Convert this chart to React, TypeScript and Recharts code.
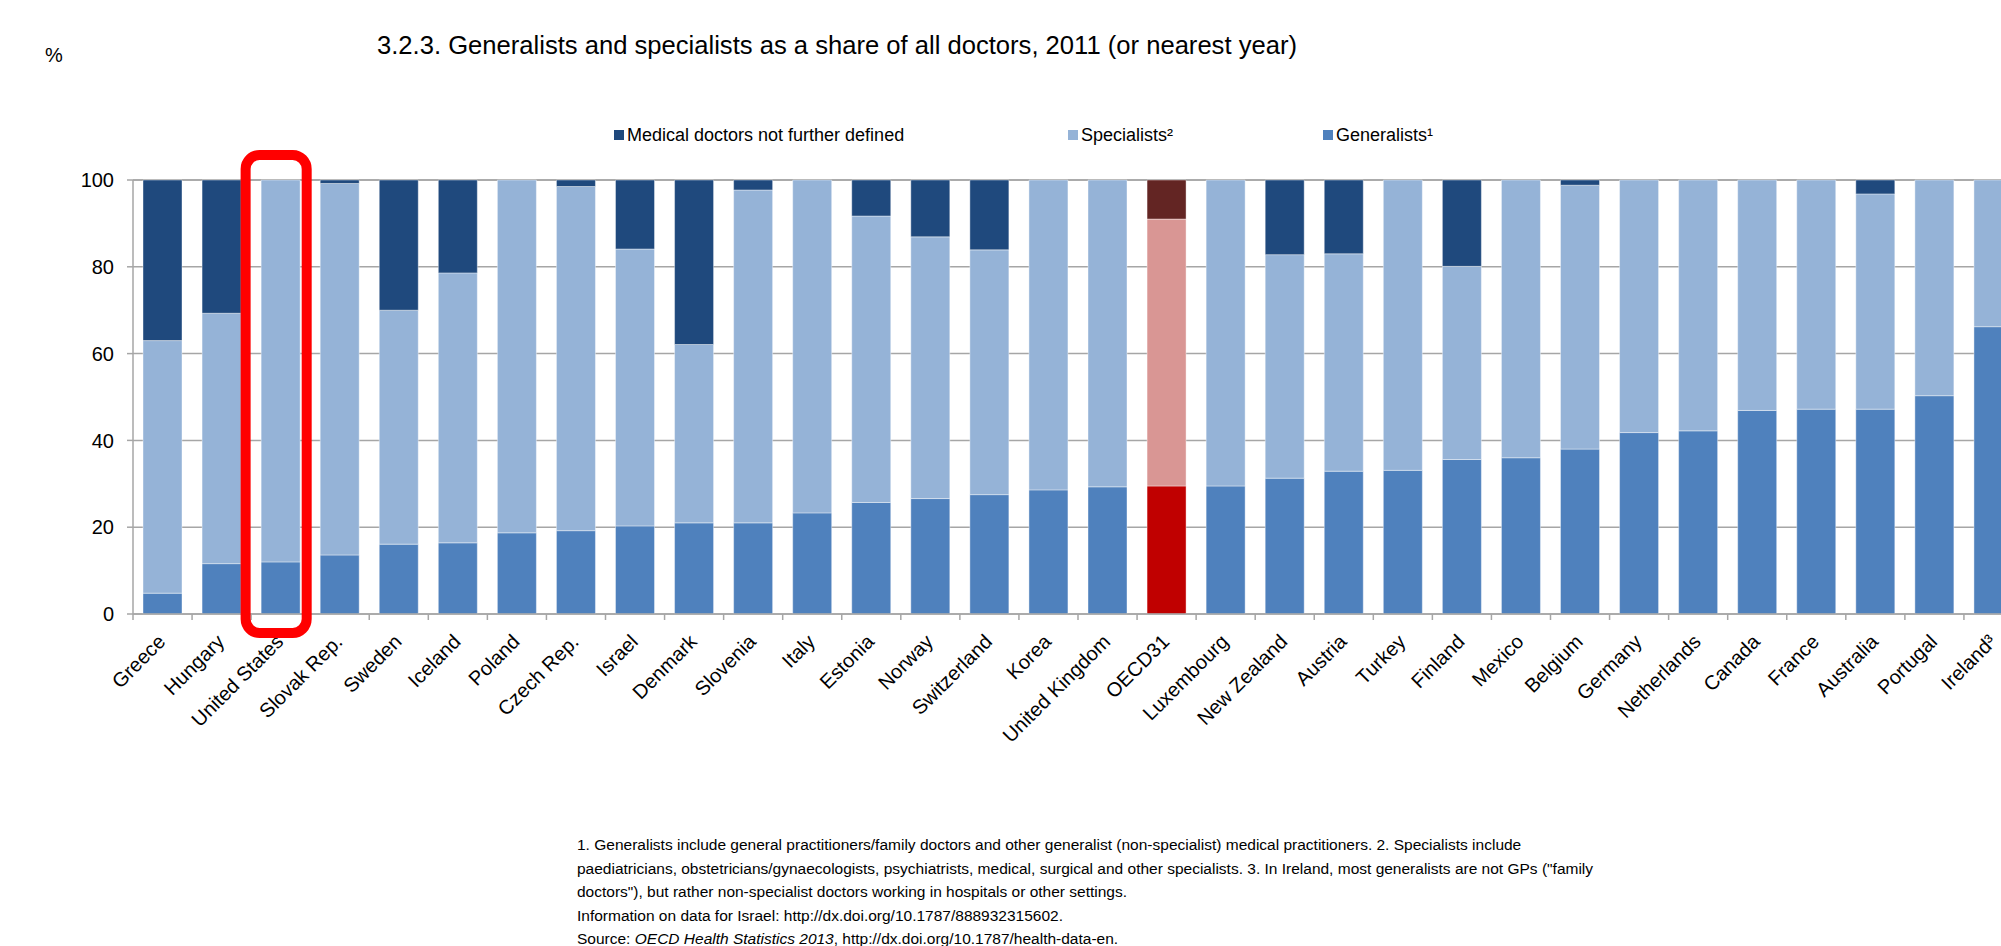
import React from 'react';
import { BarChart, Bar, XAxis, YAxis, CartesianGrid, Cell } from 'recharts';

// Share of all doctors (%), 2011 or nearest year
const countries = [
  'Greece', 'Hungary', 'United States', 'Slovak Rep.', 'Sweden', 'Iceland', 'Poland', 'Czech Rep.',
  'Israel', 'Denmark', 'Slovenia', 'Italy', 'Estonia', 'Norway', 'Switzerland', 'Korea',
  'United Kingdom', 'OECD31', 'Luxembourg', 'New Zealand', 'Austria', 'Turkey', 'Finland', 'Mexico',
  'Belgium', 'Germany', 'Netherlands', 'Canada', 'France', 'Australia', 'Portugal', 'Ireland³',
];
const generalists = [
  4.8, 11.6, 12.0, 13.6, 16.1, 16.4, 18.7, 19.2,
  20.3, 21.0, 21.0, 23.3, 25.7, 26.6, 27.5, 28.6,
  29.3, 29.5, 29.5, 31.3, 32.9, 33.1, 35.6, 36.0,
  38.0, 41.8, 42.2, 46.9, 47.2, 47.2, 50.3, 66.2,
];
const specialists = [
  58.2, 57.7, 88.0, 85.6, 53.9, 62.2, 81.3, 79.3,
  63.8, 41.1, 76.7, 76.7, 66.0, 60.3, 56.4, 71.4,
  70.7, 61.5, 70.5, 51.5, 50.1, 66.9, 44.5, 64.0,
  60.8, 58.2, 57.8, 53.1, 52.8, 49.6, 49.7, 33.8,
];
const notDefined = [
  37.0, 30.7, 0, 0.8, 30.0, 21.4, 0, 1.5,
  15.9, 37.9, 2.3, 0, 8.3, 13.1, 16.1, 0,
  0, 9.0, 0, 17.2, 17.0, 0, 19.9, 0,
  1.2, 0, 0, 0, 0, 3.2, 0, 0,
];
const yTicks = [0, 20, 40, 60, 80, 100];
const averageLabel = 'OECD31';
const circledLabel = 'United States';

const legendLabels = ['Medical doctors not further defined', 'Specialists²', 'Generalists¹'];

const titleText = '3.2.3. Generalists and specialists as a share of all doctors, 2011 (or nearest year)';
const noteLines = [
  '1. Generalists include general practitioners/family doctors and other generalist (non-specialist) medical practitioners. 2. Specialists include',
  'paediatricians, obstetricians/gynaecologists, psychiatrists, medical, surgical and other specialists. 3. In Ireland, most generalists are not GPs ("family',
  'doctors"), but rather non-specialist doctors working in hospitals or other settings.',
  'Information on data for Israel: http://dx.doi.org/10.1787/888932315602.',
];
const sourceName = 'OECD Health Statistics 2013';
const sourceLink = ', http://dx.doi.org/10.1787/health-data-en.';

const data = countries.map((country, i) => ({
  country,
  generalists: generalists[i],
  specialists: specialists[i],
  notDefined: notDefined[i],
}));

// colours
const NAVY = '#1F497D';
const LIGHT = '#95B3D7';
const MID = '#4F81BD';
const AVG_TOP = '#632523';
const AVG_MID = '#D99694';
const AVG_LOW = '#C00000';
const AXIS = '#a6a6a6';
const FONT = '"Liberation Sans", Arial, sans-serif';

// layout
const CHART_W = 2023;
const CHART_H = 946;
const Y_AXIS_W = 133;
const PLOT_TOP = 180;
const PLOT_H = 434;
const BAND = (CHART_W - Y_AXIS_W) / countries.length;
const NOTE_TOP = 850;
const NOTE_STEP = 23.6;

const CountryTick = (props: any) => {
  const { x, y, payload } = props;
  const lx = x + 4;
  const ly = y + 29;
  return (
    <g>
      <line x1={x - BAND / 2} y1={y} x2={x - BAND / 2} y2={y + 6} stroke={AXIS} strokeWidth={1.5} />
      <text
        x={lx}
        y={ly}
        textAnchor="end"
        transform={`rotate(-45 ${lx} ${ly})`}
        fontSize={20}
        fontFamily={FONT}
        fill="#000"
      >
        {payload.value}
      </text>
    </g>
  );
};

const legendX = [614, 1068, 1323];
const legendColors = [NAVY, LIGHT, MID];

export default function App() {
  const usIndex = countries.indexOf(circledLabel);
  const usLeft = Y_AXIS_W + usIndex * BAND;

  return (
    <div
      style={{
        position: 'fixed',
        left: 0,
        top: 0,
        width: 2001,
        height: 946,
        overflow: 'hidden',
        background: '#fff',
        fontFamily: FONT,
      }}
    >
      <div style={{ position: 'absolute', left: 0, top: 0 }}>
        <BarChart
          width={CHART_W}
          height={CHART_H}
          data={data}
          margin={{ top: PLOT_TOP, right: 0, left: 0, bottom: 0 }}
          barSize={Math.round(BAND * 2 / 3)}
        >
          <CartesianGrid vertical={false} stroke={AXIS} strokeWidth={1.5} />
          <XAxis
            dataKey="country"
            interval={0}
            height={CHART_H - PLOT_TOP - PLOT_H}
            axisLine={{ stroke: AXIS, strokeWidth: 1.5 }}
            tickLine={false}
            tickSize={0}
            tickMargin={0}
            tick={<CountryTick />}
          />
          <YAxis
            width={Y_AXIS_W}
            domain={[0, 100]}
            ticks={yTicks}
            interval={0}
            axisLine={{ stroke: AXIS, strokeWidth: 1.5 }}
            tickLine={{ stroke: AXIS, strokeWidth: 1.5 }}
            tickSize={6}
            tickMargin={13}
            tick={{ fontSize: 20, fill: '#000', fontFamily: FONT }}
          />
          <Bar dataKey="generalists" stackId="a" isAnimationActive={false} stroke="#ffffff" strokeOpacity={0.4}>
            {data.map((d) => (
              <Cell key={d.country} fill={d.country === averageLabel ? AVG_LOW : MID} />
            ))}
          </Bar>
          <Bar dataKey="specialists" stackId="a" isAnimationActive={false} stroke="#ffffff" strokeOpacity={0.4}>
            {data.map((d) => (
              <Cell key={d.country} fill={d.country === averageLabel ? AVG_MID : LIGHT} />
            ))}
          </Bar>
          <Bar dataKey="notDefined" stackId="a" isAnimationActive={false} stroke="#ffffff" strokeOpacity={0.4}>
            {data.map((d) => (
              <Cell key={d.country} fill={d.country === averageLabel ? AVG_TOP : NAVY} />
            ))}
          </Bar>
        </BarChart>
      </div>

      <svg
        width={2001}
        height={946}
        style={{ position: 'absolute', left: 0, top: 0, pointerEvents: 'none' }}
        fontFamily={FONT}
      >
        <text x={45} y={62} fontSize={20} fill="#000">%</text>
        <text x={377} y={54} fontSize={25.6} fill="#000">{titleText}</text>

        {legendLabels.map((label, i) => (
          <g key={label}>
            <rect x={legendX[i]} y={130} width={10} height={10} fill={legendColors[i]} />
            <text x={legendX[i] + 13} y={141} fontSize={18} fill="#000">{label}</text>
          </g>
        ))}

        {/* highlight around the United States bar */}
        <rect
          x={usLeft - 5.5}
          y={155}
          width={BAND + 2}
          height={478}
          rx={14}
          fill="none"
          stroke="#ff0000"
          strokeWidth={10}
        />

        {noteLines.map((line, i) => (
          <text key={i} x={577} y={NOTE_TOP + i * NOTE_STEP} fontSize={15.5} fill="#000">{line}</text>
        ))}
        <text x={577} y={NOTE_TOP + noteLines.length * NOTE_STEP} fontSize={15.5} fill="#000">
          {'Source:  '}
          <tspan fontStyle="italic">{sourceName}</tspan>
          {sourceLink}
        </text>
      </svg>
    </div>
  );
}
